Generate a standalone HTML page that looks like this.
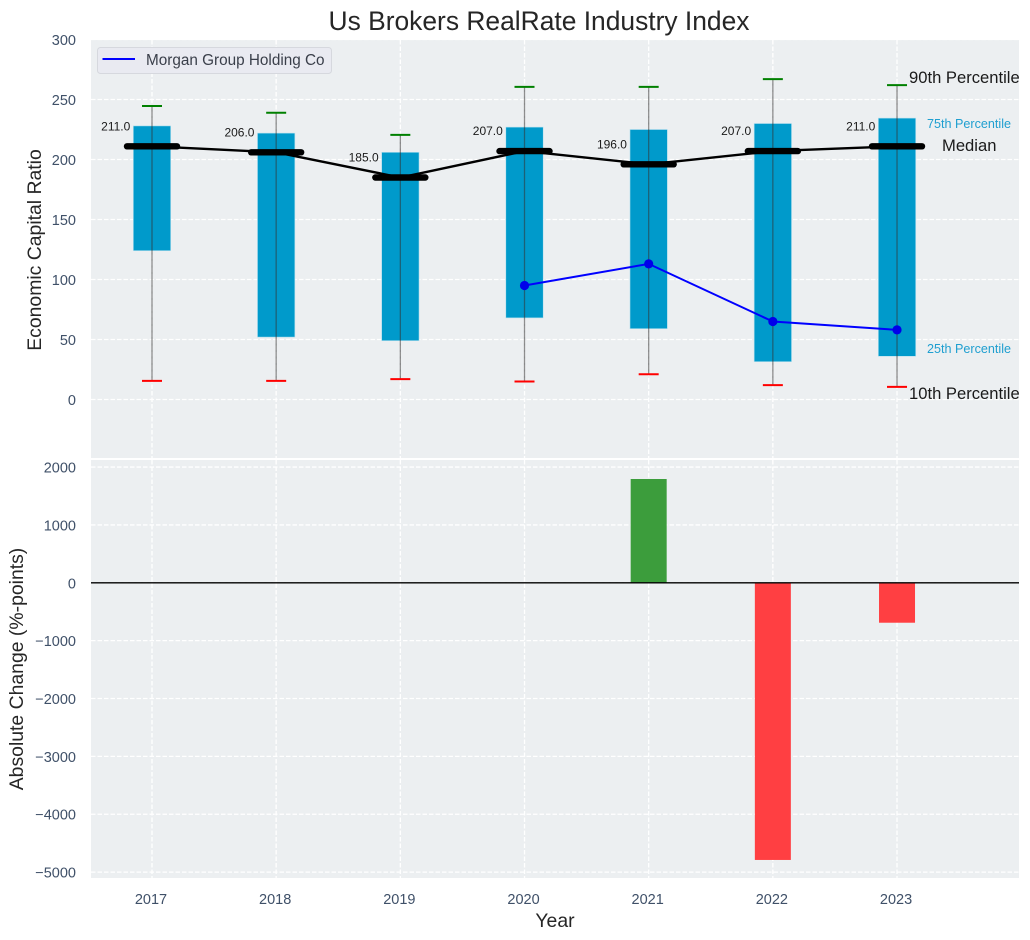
<!DOCTYPE html>
<html lang="en">
<head>
<meta charset="utf-8">
<title>Us Brokers RealRate Industry Index</title>
<style>
html,body{margin:0;padding:0;background:#fff;}
svg{display:block;font-family:"Liberation Sans",Arial,sans-serif;}
</style>
</head>
<body>
<svg id="chart" xmlns="http://www.w3.org/2000/svg" width="1030" height="940" viewBox="0 0 1030 940">
  <rect x="0" y="0" width="1030" height="940" fill="#ffffff"/>
  <rect x="91" y="40" width="928" height="418" fill="#eceff1"/>
  <rect x="91" y="460" width="928" height="418" fill="#eceff1"/>
  <g id="grid"></g>
  <g id="bars"></g>
  <g id="whiskers"></g>
  <g id="medians"></g>
  <g id="company"></g>
  <g id="changes"></g>
  <g id="ticks" font-size="14.5" fill="#3f5068"></g>
  <text x="539" y="30" font-size="26.4" fill="#262626" text-anchor="middle">Us Brokers RealRate Industry Index</text>
  <text transform="translate(41,250) rotate(-90)" font-size="19.4" fill="#262626" text-anchor="middle">Economic Capital Ratio</text>
  <text transform="translate(23,669) rotate(-90)" font-size="19.4" fill="#262626" text-anchor="middle">Absolute Change (%-points)</text>
  <text x="555" y="927" font-size="19.4" fill="#262626" text-anchor="middle">Year</text>
  <text x="909" y="83" font-size="16.6" fill="#1a1a1a">90th Percentile</text>
  <text x="927" y="128" font-size="12.6" fill="#1f9fd0">75th Percentile</text>
  <text x="942" y="151" font-size="16.6" fill="#1a1a1a">Median</text>
  <text x="927" y="353" font-size="12.6" fill="#1f9fd0">25th Percentile</text>
  <text x="909" y="399" font-size="16.6" fill="#1a1a1a">10th Percentile</text>
  <g>
    <rect x="97.5" y="47.5" width="234" height="26" rx="3" fill="#e9eaf1" stroke="#d6d8de" stroke-width="1"/>
    <line x1="102.5" y1="59" x2="135" y2="59" stroke="#0000ff" stroke-width="2"/>
    <text x="146" y="65" font-size="15.3" fill="#3a3f4a">Morgan Group Holding Co</text>
  </g>
</svg>
<script>
const years = [2017, 2018, 2019, 2020, 2021, 2022, 2023];
const p90 = [244.6, 239, 220.5, 260.5, 260.5, 267, 262];
const p75 = [228, 222, 206, 227, 225, 230, 234.5];
const medianValues = [211, 206, 185, 207, 196, 207, 211];
const p25 = [124, 52, 49, 68, 59, 31.5, 36];
const p10 = [15.5, 15.5, 17, 15, 21, 12, 10.5];
const companyValues = [null, null, null, 95, 113, 65, 58];
const changeValues = [null, null, null, null, 1794, -4790, -690];
const topTicks = [0, 50, 100, 150, 200, 250, 300];
const bottomTicks = [-5000, -4000, -3000, -2000, -1000, 0, 1000, 2000];

const SVGNS = 'http://www.w3.org/2000/svg';
const xScale = function (year) { return 152 + (year - 2017) * 124.17; };
const yTop = function (v) { return 399.5 - v * 1.2; };
const yBottom = function (v) { return 582.8 - v * 0.05786; };

function mk(parent, tag, attrs, text) {
  const el = document.createElementNS(SVGNS, tag);
  for (const k in attrs) { el.setAttribute(k, attrs[k]); }
  if (text !== undefined) { el.textContent = text; }
  parent.appendChild(el);
  return el;
}
const byId = function (id) { return document.getElementById(id); };
const DASH = '4.5 2';

/* gridlines */
topTicks.forEach(function (t) {
  const el = mk(byId('grid'), 'line', { x1: 91, x2: 1019, y1: yTop(t), y2: yTop(t), stroke: '#ffffff', 'stroke-width': 1.3, 'stroke-dasharray': DASH });
  
  
});
bottomTicks.forEach(function (t) {
  const el = mk(byId('grid'), 'line', { x1: 91, x2: 1019, y1: yBottom(t), y2: yBottom(t), stroke: '#ffffff', 'stroke-width': 1.3, 'stroke-dasharray': DASH });
  
  
});
years.forEach(function (yr) {
  const a = mk(byId('grid'), 'line', { x1: xScale(yr), x2: xScale(yr), y1: 40, y2: 458, stroke: '#ffffff', 'stroke-width': 1.3, 'stroke-dasharray': DASH });
  
  
  const b = mk(byId('grid'), 'line', { x1: xScale(yr), x2: xScale(yr), y1: 460, y2: 878, stroke: '#ffffff', 'stroke-width': 1.3, 'stroke-dasharray': DASH });
  
  
});

/* interquartile bars */
years.forEach(function (yr, i) {
  const el = mk(byId('bars'), 'rect', { x: xScale(yr) - 18.7, width: 37.4, y: yTop(p75[i]), height: yTop(p25[i]) - yTop(p75[i]), fill: '#009acb', stroke: '#b8e0ee', 'stroke-width': 0.6 });
  
  
});

/* whiskers and caps */
years.forEach(function (yr, i) {
  const x = xScale(yr);
  const stem = mk(byId('whiskers'), 'line', { x1: x, x2: x, y1: yTop(p90[i]), y2: yTop(p10[i]), stroke: '#333333', 'stroke-width': 1.3, opacity: 0.55 });
  
  
  const hi = mk(byId('whiskers'), 'line', { x1: x - 10, x2: x + 10, y1: yTop(p90[i]), y2: yTop(p90[i]), stroke: '#008000', 'stroke-width': 2 });
  
  
  const lo = mk(byId('whiskers'), 'line', { x1: x - 10, x2: x + 10, y1: yTop(p10[i]), y2: yTop(p10[i]), stroke: '#ff0000', 'stroke-width': 2 });
  
  
});

/* median series */
const medianPoints = years.map(function (yr, i) { return xScale(yr) + ',' + yTop(medianValues[i]); }).join(' ');
const medianLine = mk(byId('medians'), 'polyline', { points: medianPoints, fill: 'none', stroke: '#000000', 'stroke-width': 2.4 });


years.forEach(function (yr, i) {
  const x = xScale(yr);
  const y = yTop(medianValues[i]);
  const seg = mk(byId('medians'), 'line', { x1: x - 25, x2: x + 25, y1: y, y2: y, stroke: '#000000', 'stroke-width': 6.4, 'stroke-linecap': 'round' });
  
  
  const label = mk(byId('medians'), 'text', { x: x - 21.7, y: y - 16, 'font-size': 12, fill: '#1a1a1a', 'text-anchor': 'end' }, medianValues[i].toFixed(1));
  
  
});

/* company series */
const companyPoints = [];
years.forEach(function (yr, i) {
  if (companyValues[i] !== null) { companyPoints.push(xScale(yr) + ',' + yTop(companyValues[i])); }
});
const companyLine = mk(byId('company'), 'polyline', { points: companyPoints.join(' '), fill: 'none', stroke: '#0000ff', 'stroke-width': 2 });


years.forEach(function (yr, i) {
  if (companyValues[i] === null) { return; }
  const dot = mk(byId('company'), 'circle', { cx: xScale(yr), cy: yTop(companyValues[i]), r: 4.6, fill: '#0000ea' });
  
  
});

/* absolute change bars */
years.forEach(function (yr, i) {
  const v = changeValues[i];
  if (v === null) { return; }
  const y0 = yBottom(Math.max(v, 0));
  const y1 = yBottom(Math.min(v, 0));
  const el = mk(byId('changes'), 'rect', { x: xScale(yr) - 18, width: 36, y: y0, height: y1 - y0, fill: v >= 0 ? '#3c9d3c' : '#ff3f42' });
  
  
});
const zeroLine = mk(byId('changes'), 'line', { x1: 91, x2: 1019, y1: yBottom(0), y2: yBottom(0), stroke: '#000000', 'stroke-width': 1.4 });



/* tick labels */
topTicks.forEach(function (t) {
  const el = mk(byId('ticks'), 'text', { x: 76, y: yTop(t) + 5.5, 'text-anchor': 'end' }, String(t));
  
  
});
bottomTicks.forEach(function (t) {
  const el = mk(byId('ticks'), 'text', { x: 76, y: yBottom(t) + 5.5, 'text-anchor': 'end' }, String(t).replace('-', '\u2212'));
  
  
});
years.forEach(function (yr) {
  const el = mk(byId('ticks'), 'text', { x: xScale(yr) - 1, y: 904, 'text-anchor': 'middle' }, String(yr));
  
  
});
</script>
</body>
</html>
